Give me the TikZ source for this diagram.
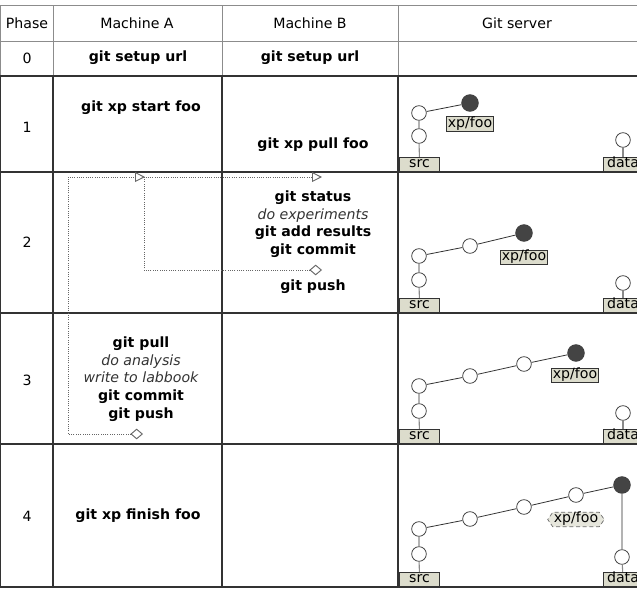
\documentclass[tikz,border=0pt]{standalone}
\usepackage{fontspec}
\setmainfont{DejaVu Sans}
\usetikzlibrary{arrows.meta,shapes.symbols}

\definecolor{labelfill}{HTML}{DCDCCC}
\definecolor{labelfaint}{HTML}{E6E6DC}
\definecolor{tipfill}{HTML}{444444}
\definecolor{gridline}{HTML}{333333}
\definecolor{stemgray}{HTML}{8A8A8A}

\tikzset{
  rule/.style={draw=gridline, line width=0.8pt},
  faintrule/.style={draw=black!45, line width=0.6pt},
  cmd/.style={font=\bfseries},
  commit/.style={circle, draw=black!75, fill=white, line width=0.6pt, minimum size=11pt, inner sep=0pt},
  tipcommit/.style={commit, fill=tipfill, minimum size=12.5pt},
  ref/.style={draw=black!80, fill=labelfill, line width=0.5pt, inner sep=0.8pt, text height=7.2pt, text depth=2pt},
  baseref/.style={ref, minimum width=30pt, anchor=south},
  stem/.style={draw=stemgray, line width=0.8pt},
  hist/.style={draw=black!80, line width=0.6pt},
  flow/.style={densely dotted, draw=black!60, line width=0.7pt,
    {Diamond[open,length=9.5pt,width=8pt]}-{Triangle[open,length=7.5pt,width=7.5pt]}}
}

\begin{document}
\fontsize{10.6}{13.2}\selectfont
\begin{tikzpicture}[x=0.75pt, y=-0.75pt]
\clip (0,0) rectangle (637,589);

% table grid
\draw[faintrule] (0,5) -- (640,5);
\draw[faintrule] (0,41) -- (640,41);
\draw[faintrule] (0.5,5) -- (0.5,76);
\draw[faintrule] (53,5) -- (53,76);
\draw[faintrule] (222,5) -- (222,76);
\draw[faintrule] (398,5) -- (398,76);
\draw[rule] (0.5,76) -- (0.5,587);
\draw[rule] (53,76) -- (53,587);
\draw[rule] (222,76) -- (222,587);
\draw[rule] (398,76) -- (398,587);
\draw[rule] (0,76) -- (640,76);
\draw[rule] (0,172) -- (640,172);
\draw[rule] (0,313) -- (640,313);
\draw[rule] (0,444) -- (640,444);
\draw[rule] (0,587) -- (640,587);

% header
\node (hphase) at (27,23) {Phase};
\node (hma) at (137,23) {Machine A};
\node (hmb) at (310,23) {Machine B};
\node (hsrv) at (517,23) {Git server};

% phase 0
\node (p0) at (27,58) {0};
\node[cmd] (a0) at (138,58) {git setup url};
\node[cmd] (b0) at (310,58) {git setup url};

% phase 1
\node (p1) at (27,127) {1};
\node[cmd] (a1) at (141,108) {git xp start foo};
\node[cmd] (b1) at (313,145) {git xp pull foo};

\node[commit] (s1l) at (419,136) {};
\node[commit] (s1u) at (419,113) {};
\node[tipcommit] (t1) at (470,103) {};
\node[ref] (x1) at (470,124) {xp/foo};
\node[baseref] (src1) at (419.5,172) {src};
\node[commit] (d1) at (623,140) {};
\node[baseref] (data1) at (623,172) {data};
\draw[stem] (src1) -- (s1l) -- (s1u);
\draw[hist] (s1u) -- (t1);
\draw[stem] (d1) -- (data1);

% phase 2
\node (p2) at (27,242) {2};
\node[align=center] (b2) at (313,224) {\textbf{git status}\\ \textit{\color{black!80}do experiments}\\ \textbf{git add results}\\ \textbf{git commit}};
\node[cmd] (b2push) at (313,287) {git push};

\node[commit] (s2l) at (419,280) {};
\node[commit] (s2u) at (419,256) {};
\node[commit] (c2a) at (470,246) {};
\node[tipcommit] (t2) at (524,233) {};
\node[ref] (x2) at (524,257.5) {xp/foo};
\node[baseref] (src2) at (419.5,313) {src};
\node[commit] (d2) at (623,283) {};
\node[baseref] (data2) at (623,313) {data};
\draw[stem] (src2) -- (s2l) -- (s2u);
\draw[hist] (s2u) -- (c2a) -- (t2);
\draw[stem] (d2) -- (data2);

% phase 3
\node (p3) at (27,380) {3};
\node[align=center] (a3) at (141,379) {\textbf{git pull}\\ \textit{\color{black!80}do analysis}\\ \textit{\color{black!80}write to labbook}\\ \textbf{git commit}\\ \textbf{git push}};

\node[commit] (s3l) at (419,411) {};
\node[commit] (s3u) at (419,386) {};
\node[commit] (c3a) at (470,376) {};
\node[commit] (c3b) at (524,364) {};
\node[tipcommit] (t3) at (576,353) {};
\node[ref] (x3) at (575,375.5) {xp/foo};
\node[baseref] (src3) at (419.5,444) {src};
\node[commit] (d3) at (623,413) {};
\node[baseref] (data3) at (623,444) {data};
\draw[stem] (src3) -- (s3l) -- (s3u);
\draw[hist] (s3u) -- (c3a) -- (c3b) -- (t3);
\draw[stem] (d3) -- (data3);

% phase 4
\node (p4) at (27,516) {4};
\node[cmd] (a4) at (138,516) {git xp finish foo};

\node[commit] (s4l) at (419,554) {};
\node[commit] (s4u) at (419,529) {};
\node[commit] (c4a) at (470,519) {};
\node[commit] (c4b) at (524,507) {};
\node[commit] (c4c) at (576,495) {};
\node[tipcommit] (t4) at (622,485) {};
\node[ref, shape=signal, signal to=west and east, signal pointer angle=110, fill=labelfaint, draw=black!60, densely dashed] (x4) at (576,519.5) {xp/foo};
\node[baseref] (src4) at (419.5,587) {src};
\node[commit] (d4) at (622,557) {};
\node[baseref] (data4) at (623,587) {data};
\draw[stem] (src4) -- (s4l) -- (s4u);
\draw[hist] (s4u) -- (c4a) -- (c4b) -- (c4c) -- (t4);
\draw[stem] (t4) -- (d4) -- (data4);

% work flow between the machines
\coordinate (pushA) at (143,434);
\coordinate (bendA) at (68,177);
\coordinate (pullA) at (145,177);
\draw[flow] (pushA) -| (bendA) -- (pullA);
\coordinate (pushB) at (322,270);
\coordinate (bendB) at (144,177);
\coordinate (pullB) at (322,177);
\draw[flow] (pushB) -| (bendB) -- (pullB);
\end{tikzpicture}
\end{document}
